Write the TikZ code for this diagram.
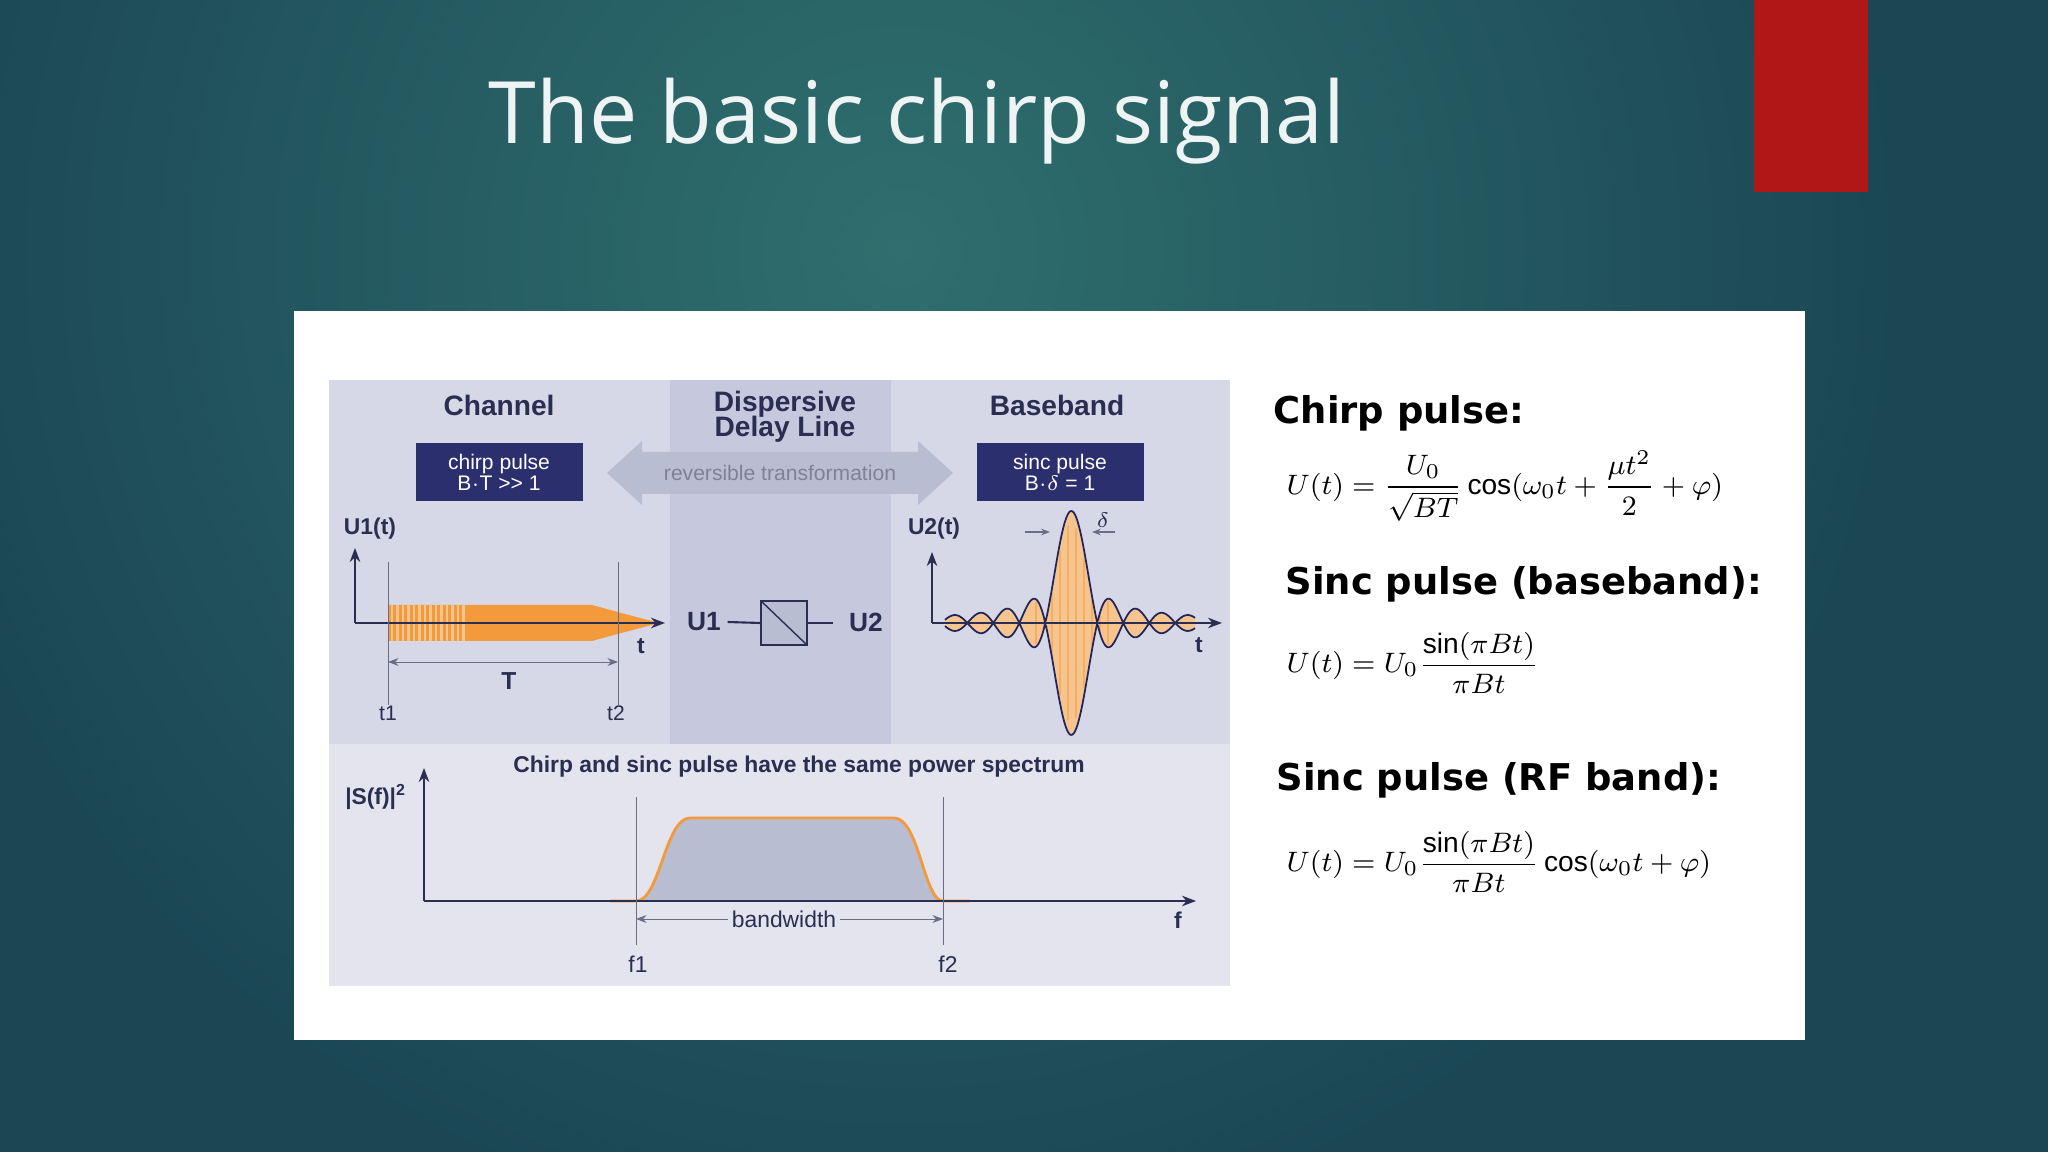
\documentclass[tikz,border=0pt]{standalone}
\usepackage{amsmath}
\usepackage{fontspec}
\setmainfont{Liberation Sans}
\newfontfamily\titlefont{Open Sans}
\newfontfamily\headfont{DejaVu Sans}
\usetikzlibrary{arrows.meta}
\definecolor{bgout}{HTML}{1B4755}
\definecolor{bgin}{HTML}{2F6F6E}
\definecolor{redbox}{HTML}{B01818}
\definecolor{panelA}{HTML}{D6D8E8}
\definecolor{panelM}{HTML}{C6C9DE}
\definecolor{panelB}{HTML}{E3E4EE}
\definecolor{navy}{HTML}{2B2F6E}
\definecolor{ink}{HTML}{2A2E50}
\definecolor{orng}{HTML}{F39A3C}
\definecolor{lorng}{HTML}{F6C48E}
\definecolor{arrgray}{HTML}{B9BDD2}
\newcommand{\fsz}[1]{\fontsize{#1}{#1}\selectfont}
\tikzset{
  lab/.style={font=\fsz{6.5}\bfseries, text=ink, inner sep=0pt},
  hd/.style={font=\fsz{8}\bfseries, text=ink, inner sep=0pt, align=center},
  nbox/.style={fill=navy, text=white, font=\fsz{6}, align=center, inner sep=0pt, minimum width=167*0.1mm, minimum height=58*0.1mm},
  axis/.style={draw=ink, line width=0.5pt, -{Stealth[length=4pt]}},
  thin/.style={draw=ink!70, line width=0.25pt},
  rhead/.style={font=\headfont\fsz{10.5}\bfseries, anchor=west, inner sep=0pt},
  frm/.style={font=\fsz{8}, anchor=west, inner sep=0pt}
}
\begin{document}
\begin{tikzpicture}[x=0.1mm,y=-0.1mm]
\useasboundingbox (0,0) rectangle (2048,1152);
% background
\fill[bgout] (0,0) rectangle (2048,1152);
\begin{scope}
\clip (0,0) rectangle (2048,1152);
\shade[inner color=bgin, outer color=bgout] (900,250) circle (1000);
\end{scope}
\fill[redbox] (1754,0) rectangle (1868,192);
\node[font=\titlefont\fsz{24.5}, text=white!92!bgin, anchor=base west, inner sep=0pt] (title) at (488,144) {The basic chirp signal};
% white panel
\fill[white] (294,311) rectangle (1805,1040);
% diagram panels
\fill[panelA] (329,380) rectangle (1230,744);
\fill[panelM] (670,380) rectangle (891,744);
\fill[panelB] (329,744) rectangle (1230,986);
% headers
\node[hd] (ch) at (499,405) {Channel};
\node[hd] (ddl) at (785,417) {Dispersive\\[-1pt]Delay Line};
\node[hd] (bb) at (1057,405) {Baseband};
\node[nbox] (cp) at (499,472) {chirp pulse\\B$\cdot$T {>}{>} 1};
\node[nbox] (sp) at (1060,472) {sinc pulse\\B$\cdot\delta$ = 1};
% double arrow
\fill[arrgray] (607,473) -- (642,441) -- (642,452) -- (918,452) -- (918,441) -- (953,473) -- (918,505) -- (918,494) -- (642,494) -- (642,505) -- cycle;
\node[font=\fsz{6}, text=ink!60, inner sep=0pt] (rt) at (780,473) {reversible transformation};
% left chirp plot
\coordinate (o1) at (355,623);
\coordinate (y1) at (355,548);
\coordinate (x1) at (665,623);
\fill[orng] (388,605) -- (592,605) -- (640,618) -- (660,623) -- (640,628) -- (592,641) -- (388,641) -- cycle;
\foreach \i in {0,...,13}{\draw[lorng, line width=0.8pt] ({392+\i*5.5},605) -- ({392+\i*5.5},641);}
\draw[axis] (o1) -- (y1);
\draw[axis] (o1) -- (x1);
\node[lab] (u1t) at (370,529) {U1(t)};
\node[lab] (tl) at (641,646) {t};
\coordinate (t1a) at (388,562); \coordinate (t1b) at (388,705);
\coordinate (t2a) at (618,562); \coordinate (t2b) at (618,705);
\draw[thin] (t1a) -- (t1b);
\draw[thin] (t2a) -- (t2b);
\coordinate (Ta) at (388,662); \coordinate (Tb) at (618,662);
\draw[thin, {Stealth[length=3pt]}-{Stealth[length=3pt]}] (Ta) -- (Tb);
\node[lab, font=\fsz{7}\bfseries] (T) at (509,681) {T};
\node[lab, font=\fsz{6}] (t1) at (388,713) {t1};
\node[lab, font=\fsz{6}] (t2) at (616,713) {t2};
% middle block
\node[draw=ink, fill=arrgray, minimum width=46*0.1mm, minimum height=44*0.1mm, inner sep=0pt] (blk) at (784,623) {};
\draw[ink, line width=0.4pt] (blk.north west) -- (blk.south east);
\node[lab, font=\fsz{7.5}\bfseries] (U1) at (704,622) {U1};
\node[lab, font=\fsz{7.5}\bfseries] (U2) at (866,622) {U2};
\draw[ink, line width=0.6pt] (U1.east) ++(6,0) -- (blk.west);
\draw[ink, line width=0.6pt] (blk.east) -- ++(25,0);
% sinc plot
\fill[lorng] plot[domain=945:1195, samples=251] (\x, {623-112*abs(sin(deg(pi*(\x-1071.3)/26)))/abs(pi*(\x-1071.3)/26)}) -- plot[domain=1195:945, samples=251] (\x, {623+112*abs(sin(deg(pi*(\x-1071.3)/26)))/abs(pi*(\x-1071.3)/26)}) -- cycle;
\foreach \xx in {1036,1044,1052,1060,1068,1076,1084,1092,1100,1108}{\draw[orng!80, line width=0.3pt] (\xx,{623-100*abs(sin(deg(pi*(\xx-1071.3)/26)))/abs(pi*(\xx-1071.3)/26)}) -- (\xx,{623+100*abs(sin(deg(pi*(\xx-1071.3)/26)))/abs(pi*(\xx-1071.3)/26)});}
\draw[navy!80!black, line width=0.5pt] plot[domain=945:1195, samples=251] (\x, {623-112*abs(sin(deg(pi*(\x-1071.3)/26)))/abs(pi*(\x-1071.3)/26)});
\draw[navy!80!black, line width=0.5pt] plot[domain=945:1195, samples=251] (\x, {623+112*abs(sin(deg(pi*(\x-1071.3)/26)))/abs(pi*(\x-1071.3)/26)});
\coordinate (o2) at (932,623);
\coordinate (y2) at (932,552);
\coordinate (x2) at (1222,623);
\draw[axis] (o2) -- (y2);
\draw[axis] (o2) -- (x2);
\node[lab] (u2t) at (934,529) {U2(t)};
\node[lab] (t2l) at (1199,645) {t};
\coordinate (da) at (1025,532); \coordinate (db) at (1050,532);
\coordinate (dc) at (1115,532); \coordinate (dd) at (1092,532);
\draw[ink!70, line width=0.3pt, -{Stealth[length=2.5pt]}] (da) -- (db);
\draw[ink!70, line width=0.3pt, -{Stealth[length=2.5pt]}] (dc) -- (dd);
\node[lab, font=\fsz{6}] (dl) at (1103,520) {$\delta$};
% spectrum
\node[lab, font=\fsz{6.5}\bfseries] (same) at (799,767) {Chirp and sinc pulse have the same power spectrum};
\node[lab] (sf) at (376,797) {|S(f)|$^{\mathbf 2}$};
\fill[arrgray] (636,901) .. controls (660,901) and (665,818) .. (690,818) -- (894,818) .. controls (919,818) and (924,901) .. (943,901) -- cycle;
\draw[orng, line width=0.8pt] (610,901) -- (636,901) .. controls (660,901) and (665,818) .. (690,818) -- (894,818) .. controls (919,818) and (924,901) .. (943,901) -- (970,901);
\coordinate (o3) at (424,901);
\coordinate (y3) at (424,768);
\coordinate (x3) at (1196,901);
\draw[axis] (o3) -- (y3);
\draw[axis] (o3) -- (x3);
\node[lab] (fl) at (1178,920) {f};
\coordinate (f1a) at (636,797); \coordinate (f1b) at (636,945);
\coordinate (f2a) at (943,797); \coordinate (f2b) at (943,945);
\draw[thin] (f1a) -- (f1b);
\draw[thin] (f2a) -- (f2b);
\node[font=\fsz{6.5}, text=ink, fill=panelB, inner sep=1pt] (bw) at (784,919) {bandwidth};
\draw[thin, -{Stealth[length=3pt]}] (bw.west) -- (f1a |- bw.west);
\draw[thin, -{Stealth[length=3pt]}] (bw.east) -- (f2a |- bw.east);
\node[lab, font=\fsz{6.5}] (f1) at (638,964) {f1};
\node[lab, font=\fsz{6.5}] (f2) at (948,964) {f2};
% formulas
\node[rhead] (h1) at (1273,413) {Chirp pulse:};
\node[frm] (e1) at (1286,486) {$U(t)=\dfrac{U_0}{\sqrt{BT}}\cos(\omega_0 t+\dfrac{\mu t^2}{2}+\varphi)$};
\node[rhead] (h2) at (1285,584) {Sinc pulse (baseband):};
\node[frm] (e2) at (1286,663) {$U(t)=U_0\dfrac{\sin(\pi B t)}{\pi B t}$};
\node[rhead] (h3) at (1276,780) {Sinc pulse (RF band):};
\node[frm] (e3) at (1286,862) {$U(t)=U_0\dfrac{\sin(\pi B t)}{\pi B t}\cos(\omega_0 t+\varphi)$};
\end{tikzpicture}
\end{document}
